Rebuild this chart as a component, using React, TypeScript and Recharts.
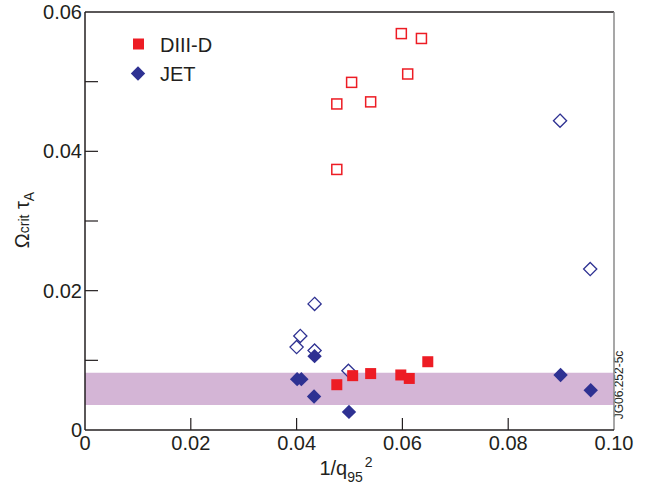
import { ScatterChart, Scatter, XAxis, YAxis, ReferenceArea, ReferenceLine, Legend } from "recharts";

const xTicks = [0, 0.02, 0.04, 0.06, 0.08, 0.1];
const xTickLabels = ["0", "0.02", "0.04", "0.06", "0.08", "0.10"];
const yTicks = [0, 0.01, 0.02, 0.03, 0.04, 0.05, 0.06];
const yTickLabels = ["0", "", "0.02", "", "0.04", "", "0.06"];

// [1/q95^2, Omega_crit tau_A]
const diiidOpen = [
  [0.0598, 0.0569], [0.0636, 0.0562], [0.0504, 0.0499], [0.061, 0.0511],
  [0.0476, 0.0468], [0.054, 0.0471], [0.0476, 0.0374],
];
const diiidFilled = [
  [0.0476, 0.0065], [0.0506, 0.0078], [0.054, 0.0081], [0.0597, 0.0079],
  [0.0613, 0.0074], [0.0648, 0.0098],
];
const jetOpen = [
  [0.0434, 0.0181], [0.0407, 0.0135], [0.04, 0.0119], [0.0434, 0.0114],
  [0.0498, 0.0085], [0.0898, 0.0444], [0.0955, 0.0231],
];
const jetFilled = [
  [0.0434, 0.0106], [0.0401, 0.0073], [0.0409, 0.0073], [0.0433, 0.0048],
  [0.0499, 0.0026], [0.0899, 0.0079], [0.0956, 0.0057],
];
const band = [0.0036, 0.0082];

const RED = "#ed1c24";
const BLUE = "#2e3192";
const INK = "#231f20";
const FONT = "'Liberation Sans', Arial, sans-serif";

const pts = (a: number[][]) => a.map(([x, y]) => ({ x, y }));

const squareFilled = (p: any) => <rect x={p.cx - 5.5} y={p.cy - 5.5} width={11} height={11} fill={RED} />;
const squareOpen = (p: any) => (
  <rect x={p.cx - 5} y={p.cy - 5} width={10} height={10} fill="none" stroke={RED} strokeWidth={1.5} />
);
const diamond = (cx: number, cy: number, r: number) =>
  `M${cx},${cy - r} L${cx + r},${cy} L${cx},${cy + r} L${cx - r},${cy} Z`;
const diamondFilled = (p: any) => <path d={diamond(p.cx, p.cy, 7.2)} fill={BLUE} />;
const diamondOpen = (p: any) => <path d={diamond(p.cx, p.cy, 6.6)} fill="none" stroke={BLUE} strokeWidth={1.3} />;

const XTick = (p: any) => {
  const i = xTicks.indexOf(p.payload.value);
  return (
    <g>
      {i > 0 && i < xTicks.length - 1 && <line x1={p.x} x2={p.x} y1={p.y} y2={p.y - 12} stroke={INK} strokeWidth={1.2} />}
      <text x={p.x} y={p.y + 20} textAnchor="middle" fontSize={20} fontFamily={FONT} fill={INK}>
        {xTickLabels[i]}
      </text>
    </g>
  );
};

const YTick = (p: any) => {
  const i = yTicks.indexOf(p.payload.value);
  return (
    <g>
      {i > 0 && i < yTicks.length - 1 && <line x1={p.x} x2={p.x + 13} y1={p.y} y2={p.y} stroke={INK} strokeWidth={1.2} />}
      <text x={p.x - 3} y={p.y + 7} textAnchor="end" fontSize={20} fontFamily={FONT} fill={INK}>
        {yTickLabels[i]}
      </text>
    </g>
  );
};

const renderLegend = () => (
  <svg width={130} height={62} style={{ display: "block" }}>
    <rect x={8} y={8.5} width={11} height={11} fill={RED} />
    <text x={35} y={22} fontSize={20} fontFamily={FONT} fill={INK}>DIII-D</text>
    <path d={diamond(13, 43.5, 7.2)} fill={BLUE} />
    <text x={35} y={51} fontSize={20} fontFamily={FONT} fill={INK}>JET</text>
  </svg>
);

export default function App() {
  return (
    <div style={{ position: "absolute", left: 0, top: 0, background: "#fff" }}>
      <ScatterChart width={652} height={491} margin={{ top: 12, right: 38, bottom: 0, left: 0 }}>
        <ReferenceArea y1={band[0]} y2={band[1]} fill="#d4b5d6" fillOpacity={1} stroke="none" />
        <XAxis
          type="number" dataKey="x" domain={[0, 0.1]} ticks={xTicks} interval={0}
          tick={XTick} tickLine={false} tickSize={0} tickMargin={0} height={61}
          axisLine={{ stroke: INK, strokeWidth: 1.5 }}
        />
        <YAxis
          type="number" dataKey="y" domain={[0, 0.06]} ticks={yTicks} interval={0}
          tick={YTick} tickLine={false} tickSize={0} tickMargin={0} width={85}
          axisLine={{ stroke: INK, strokeWidth: 1.5 }}
        />
        <ReferenceLine y={0.06} stroke={INK} strokeWidth={1.5} />
        <ReferenceLine x={0.1} stroke="#8a8a8a" strokeWidth={1.5} />
        <Scatter name="DIII-D open" data={pts(diiidOpen)} shape={squareOpen} isAnimationActive={false} />
        <Scatter name="JET open" data={pts(jetOpen)} shape={diamondOpen} isAnimationActive={false} />
        <Scatter name="JET" data={pts(jetFilled)} shape={diamondFilled} isAnimationActive={false} />
        <Scatter name="DIII-D" data={pts(diiidFilled)} shape={squareFilled} isAnimationActive={false} />
        <Legend
          content={renderLegend} layout="vertical" align="center" verticalAlign="middle"
          wrapperStyle={{ left: 125, top: 30, width: 130, height: 62 }}
        />
        <text x={346} y={475} textAnchor="middle" fontFamily={FONT} fill={INK} fontSize={20}>
          1/q<tspan fontSize={14} dy={7}>95</tspan><tspan fontSize={14} dy={-15} dx={2}>2</tspan>
        </text>
        <text x={29} y={220} transform="rotate(-90, 29, 220)" textAnchor="middle" fontFamily={FONT} fill={INK} fontSize={20}>
          Ω<tspan fontSize={14}>crit</tspan> τ<tspan fontSize={14} dy={5}>A</tspan>
        </text>
        <text x={623} y={385} transform="rotate(-90, 623, 385)" textAnchor="middle" fontFamily={FONT} fill={INK} fontSize={12}>
          JG06.252-5c
        </text>
      </ScatterChart>
    </div>
  );
}
